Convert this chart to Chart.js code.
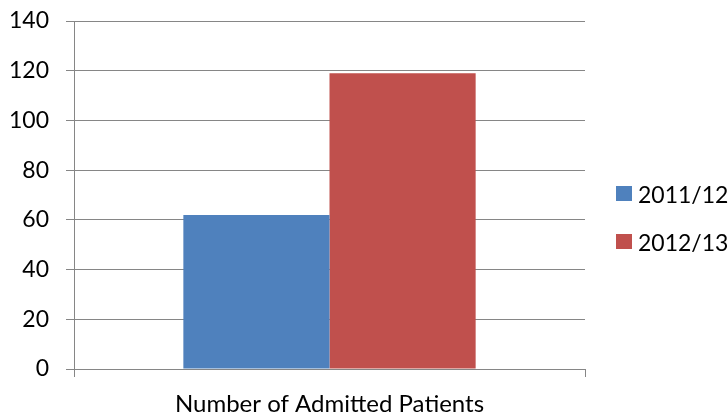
<!DOCTYPE html>
<html>
<head>
<meta charset="utf-8">
<script src="https://cdn.jsdelivr.net/npm/chart.js@4"></script>
<style>
  html, body { margin: 0; padding: 0; background: #fff; }
  #wrap { position: relative; width: 728px; height: 412px; }
  #legend { position: absolute; left: 616px; top: 180px; font-family: Lato, sans-serif; font-size: 23px; color: #000; }
  #legend div { height: 48px; display: flex; align-items: flex-start; white-space: nowrap; }
  #legend span.box { display: inline-block; width: 16px; height: 15px; margin-top: 6px; margin-right: 6px; }
</style>
</head>
<body>
<div id="wrap">
  <canvas id="admitChart" width="728" height="412"></canvas>
  <div id="legend"></div>
</div>
<script>
  const categories = ['Number of Admitted Patients'];
  const seriesNames = ['2011/12', '2012/13'];
  const admitted1112 = [62];
  const admitted1213 = [119];
  const yTicks = [0, 20, 40, 60, 80, 100, 120, 140];

  const colours = ['#4F81BD', '#C0504D'];
  const gridGrey = '#868686';
  const font = { family: 'Lato, sans-serif', size: 23 };

  const ctx = document.getElementById('admitChart');
  const myChart = new Chart(ctx, {
    type: 'bar',
    data: {
      labels: categories,
      datasets: [{
        label: seriesNames[0],
        data: admitted1112,
        backgroundColor: colours[0],
        borderWidth: 0
      },
      {
        label: seriesNames[1],
        data: admitted1213,
        backgroundColor: colours[1],
        borderWidth: 0
      }]
    },
    options: {
      responsive: false,
      animation: false,
      categoryPercentage: 0.572,
      barPercentage: 1,
      layout: {
        padding: { left: 0, right: 143, top: 21, bottom: 0 }
      },
      plugins: {
        legend: { display: false },
        tooltip: { enabled: false }
      },
      scales: {
        x: {
          offset: true,
          afterFit: (s) => { s.height = 43; s.paddingLeft = 0; s.paddingRight = 0; },
          border: { color: gridGrey, width: 1 },
          grid: {
            offset: true,
            drawOnChartArea: false,
            drawTicks: true,
            tickLength: 8,
            color: gridGrey
          },
          ticks: { color: '#000', font: { family: 'Lato, sans-serif', size: 24 }, padding: 13 }
        },
        y: {
          min: 0,
          max: 140,
          afterFit: (s) => { s.width = 74; s.paddingTop = 0; s.paddingBottom = 0; },
          afterBuildTicks: (s) => { s.ticks = yTicks.map((v) => ({ value: v })); },
          border: { color: gridGrey, width: 1 },
          grid: { color: gridGrey, tickLength: 8 },
          ticks: { color: '#000', font: font, padding: 17 }
        }
      }
    }
  });

  // legend built from the datasets
  const legend = document.getElementById('legend');
  myChart.data.datasets.forEach((ds) => {
    const row = document.createElement('div');
    const box = document.createElement('span');
    box.className = 'box';
    box.style.background = ds.backgroundColor;
    row.appendChild(box);
    row.appendChild(document.createTextNode(ds.label));
    legend.appendChild(row);
  });
</script>
</body>
</html>
